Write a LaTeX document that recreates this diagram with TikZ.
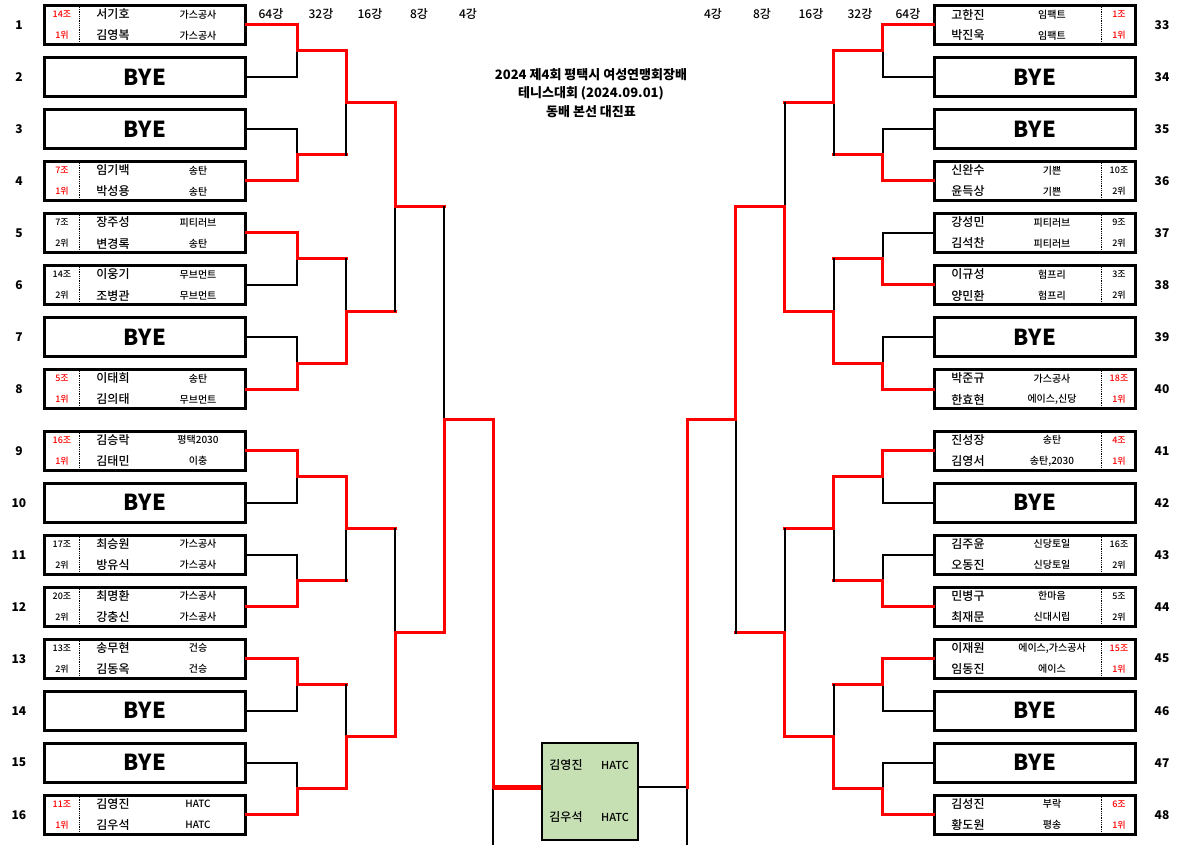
\documentclass[tikz,border=0pt]{standalone}
\usepackage{fontspec}
\setmainfont{Noto Sans CJK KR}
\newfontfamily\medium{Noto Sans CJK KR Medium}
\usetikzlibrary{calc}
\definecolor{finalfill}{RGB}{198,224,180}
\tikzset{
  pbox/.style={draw, line width=2.6pt, minimum width=201pt, minimum height=39pt, inner sep=0pt},
  win/.style={draw=red, line width=3pt, line cap=rect},
  lose/.style={draw=black, line width=2pt, line cap=rect},
  pname/.style={font=\medium\fontsize{12}{14}\selectfont, inner sep=0pt},
  club/.style={font=\medium\fontsize{10}{12}\selectfont, inner sep=0pt},
  seed/.style={font=\medium\fontsize{9}{10}\selectfont, inner sep=0pt},
  bye/.style={font=\bfseries\fontsize{22}{24}\selectfont},
  rownum/.style={font=\bfseries\fontsize{12}{14}\selectfont, inner sep=0pt},
  rnd/.style={font=\medium\fontsize{12}{14}\selectfont, inner sep=0pt},
  divider/.style={densely dotted, line width=.8pt},
}
\begin{document}
\begin{tikzpicture}[x=1pt,y=-1pt]
\useasboundingbox (0,0) rectangle (1184,845);

\foreach \t/\xl/\xr [count=\k] in {64강/271/908, 32강/321/860, 16강/370/811, 8강/419/762, 4강/468/713} {
  \node[rnd] (hl\k) at (\xl,14) {\t};
  \node[rnd] (hr\k) at (\xr,14) {\t};
}

\node[font=\bfseries\fontsize{13}{18.5}\selectfont, align=center] (title) at (591,93)
  {2024 제4회 평택시 여성연맹회장배\\테니스대회 (2024.09.01)\\동배 본선 대진표};

\foreach \i/\y in {1/25,2/77,3/129,4/181,5/233,6/285,7/337,8/389,9/450.7,10/502.7,11/554.7,12/606.7,13/658.7,14/710.7,15/762.7,16/814.7} {
  \node[rownum] (n\i) at (19,\y) {\i};
  \pgfmathtruncatemacro\ri{\i+32}
  \node[rownum] (n\ri) at (1162,\y) {\ri};
}

% left side
\foreach \i/\y/\grp/\rank/\col/\pa/\ca/\pb/\cb in {
  1/25/14조/1위/red/서기호/가스공사/김영복/가스공사,
  4/181/7조/1위/red/임기백/송탄/박성용/송탄,
  5/233/7조/2위/black/장주성/피티러브/변경록/송탄,
  6/285/14조/2위/black/이웅기/무브먼트/조병관/무브먼트,
  8/389/5조/1위/red/이태희/송탄/김의태/무브먼트,
  9/450.7/16조/1위/red/김승락/평택2030/김태민/이충,
  11/554.7/17조/2위/black/최승원/가스공사/방유식/가스공사,
  12/606.7/20조/2위/black/최명환/가스공사/강충신/가스공사,
  13/658.7/13조/2위/black/송무현/건승/김동옥/건승,
  16/814.7/11조/1위/red/김영진/HATC/김우석/HATC} {
  \node[pbox] (l\i) at (145,\y) {};
  \node[seed, text=\col] (l\i-g) at ($(l\i)+(-83,-10.5)$) {\grp};
  \node[seed, text=\col] (l\i-r) at ($(l\i)+(-83,10.5)$) {\rank};
  \draw[divider] ($(l\i)+(-66,-18)$) -- ($(l\i)+(-66,18)$);
  \node[pname] (l\i-a) at ($(l\i)+(-32,-10.5)$) {\pa};
  \node[club] (l\i-ac) at ($(l\i)+(53,-10.5)$) {\ca};
  \node[pname] (l\i-b) at ($(l\i)+(-32,10.5)$) {\pb};
  \node[club] (l\i-bc) at ($(l\i)+(53,10.5)$) {\cb};
}
\foreach \i/\y in {2/77,3/129,7/337,10/502.7,14/710.7,15/762.7}
  \node[pbox, bye] (l\i) at (145,\y) {BYE};

% right side
\foreach \i/\y/\grp/\rank/\col/\pa/\ca/\pb/\cb in {
  33/25/1조/1위/red/고한진/임팩트/박진욱/임팩트,
  36/181/10조/2위/black/신완수/기쁜/윤득상/기쁜,
  37/233/9조/2위/black/강성민/피티러브/김석찬/피티러브,
  38/285/3조/2위/black/이규성/험프리/양민환/험프리,
  40/389/18조/1위/red/박준규/가스공사/한효현/{에이스,신당},
  41/450.7/4조/1위/red/진성장/송탄/김영서/{송탄,2030},
  43/554.7/16조/2위/black/김주윤/신당토일/오동진/신당토일,
  44/606.7/5조/2위/black/민병구/한마음/최재문/신대시립,
  45/658.7/15조/1위/red/이재원/{에이스,가스공사}/임동진/에이스,
  48/814.7/6조/1위/red/김성진/부락/황도원/평송} {
  \node[pbox] (r\i) at (1035,\y) {};
  \node[pname] (r\i-a) at ($(r\i)+(-67,-10.5)$) {\pa};
  \node[club] (r\i-ac) at ($(r\i)+(17,-10.5)$) {\ca};
  \node[pname] (r\i-b) at ($(r\i)+(-67,10.5)$) {\pb};
  \node[club] (r\i-bc) at ($(r\i)+(17,10.5)$) {\cb};
  \draw[divider] ($(r\i)+(66,-18)$) -- ($(r\i)+(66,18)$);
  \node[seed, text=\col] (r\i-g) at ($(r\i)+(84,-10.5)$) {\grp};
  \node[seed, text=\col] (r\i-r) at ($(r\i)+(84,10.5)$) {\rank};
}
\foreach \i/\y in {34/77,35/129,39/337,42/502.7,46/710.7,47/762.7}
  \node[pbox, bye] (r\i) at (1035,\y) {BYE};

% left bracket
\foreach \wi/\lo [count=\j] in {1/2, 4/3, 5/6, 8/7, 9/10, 12/11, 13/14, 16/15} {
  \coordinate (la\j) at ($($(l\wi.east)!.5!(l\lo.east)$)+(50.5,0)$);
  \draw[lose] (l\lo.east) -| (la\j);
  \draw[win] (l\wi.east) -| (la\j);
}
\foreach \wi/\lo [count=\j] in {1/2, 4/3, 5/6, 8/7} {
  \coordinate (lb\j) at ($($(la\wi)!.5!(la\lo)$)+(49,0)$);
  \draw[win] (la\lo) -- (la\lo -| lb\j);
  \draw[lose] (la\lo -| lb\j) -- (lb\j);
  \draw[win] (la\wi) -| (lb\j);
}
\foreach \wi/\lo [count=\j] in {1/2, 4/3} {
  \coordinate (lc\j) at ($($(lb\wi)!.5!(lb\lo)$)+(49,0)$);
  \draw[win] (lb\lo) -- (lb\lo -| lc\j);
  \draw[lose] (lb\lo -| lc\j) -- (lc\j);
  \draw[win] (lb\wi) -| (lc\j);
}
\coordinate (ld1) at ($($(lc1)!.5!(lc2)$)+(49,0)$);
\draw[win] (lc1) -- (lc1 -| ld1);
\draw[lose] (lc1 -| ld1) -- (ld1);
\draw[win] (lc2) -| (ld1);

% right bracket
\foreach \wi/\lo [count=\j] in {33/34, 36/35, 38/37, 40/39, 41/42, 44/43, 45/46, 48/47} {
  \coordinate (ra\j) at ($($(r\wi.west)!.5!(r\lo.west)$)+(-50.5,0)$);
  \draw[lose] (r\lo.west) -| (ra\j);
  \draw[win] (r\wi.west) -| (ra\j);
}
\foreach \wi/\lo [count=\j] in {1/2, 4/3, 5/6, 8/7} {
  \coordinate (rb\j) at ($($(ra\wi)!.5!(ra\lo)$)+(-49,0)$);
  \draw[win] (ra\lo) -- (ra\lo -| rb\j);
  \draw[lose] (ra\lo -| rb\j) -- (rb\j);
  \draw[win] (ra\wi) -| (rb\j);
}
\foreach \wi/\lo [count=\j] in {2/1, 4/3} {
  \coordinate (rc\j) at ($($(rb\wi)!.5!(rb\lo)$)+(-49,0)$);
  \draw[win] (rb\lo) -- (rb\lo -| rc\j);
  \draw[lose] (rb\lo -| rc\j) -- (rc\j);
  \draw[win] (rb\wi) -| (rc\j);
}
\coordinate (rd1) at ($($(rc1)!.5!(rc2)$)+(-49,0)$);
\draw[win] (rc2) -- (rc2 -| rd1);
\draw[lose] (rc2 -| rd1) -- (rd1);
\draw[win] (rc1) -| (rd1);

% final
\node[draw, line width=2pt, fill=finalfill, minimum width=96pt, minimum height=97pt, inner sep=0pt] (final) at (590,791) {};
\node[pname] (final-a) at (566,765) {김영진};
\node[club, font=\medium\fontsize{11}{12}\selectfont] (final-ac) at (615,765) {HATC};
\node[pname] (final-b) at (566,817) {김우석};
\node[club, font=\medium\fontsize{11}{12}\selectfont] (final-bc) at (615,817) {HATC};

\coordinate (fl) at (493,787);
\coordinate (fr) at (687,787);
\coordinate (flb) at (493,845);
\coordinate (frb) at (687,845);
\draw[lose] (fl) -- (flb);
\draw[lose] (fr) -- (frb);
\draw[lose] (fr) -- (fr -| final.east);
\draw[win] (ld1) -| (fl);
\draw[win] (rd1) -| (fr);
\draw[win, line width=5pt, line cap=butt] (fl) -- (fl -| final.west);
\end{tikzpicture}
\end{document}
